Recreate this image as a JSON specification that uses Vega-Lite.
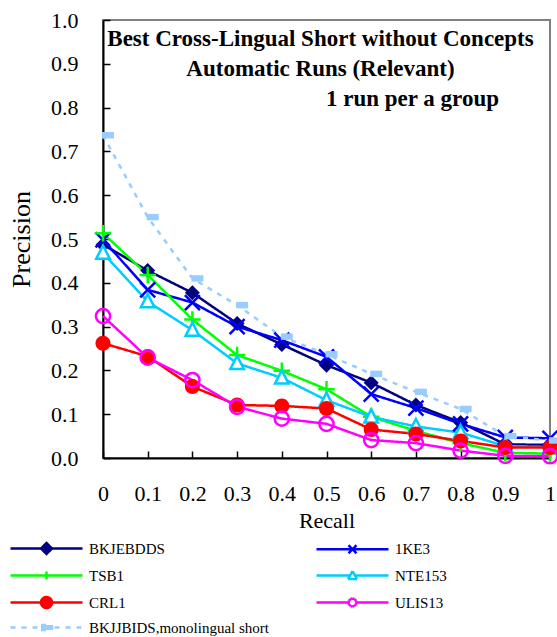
{
  "$schema": "https://vega.github.io/schema/vega-lite/v6.json",
  "width": 447,
  "height": 438,
  "autosize": {"type": "none"},
  "padding": {"left": 103, "top": 20, "right": 7, "bottom": 179},
  "background": "white",
  "title": {
    "text": ["Best Cross-Lingual Short without Concepts", "Automatic Runs (Relevant)", "\u200b\u00a0\u00a0\u00a0\u00a0\u00a0\u00a0\u00a0\u00a0\u00a0\u00a0\u00a0\u00a0\u00a0\u00a0\u00a0\u00a0\u00a0\u00a0\u00a0\u00a0\u00a0\u00a0\u00a0\u00a0\u00a0\u00a0\u00a0\u00a0\u00a0\u00a0\u00a0\u00a01 run per a group"],
    "font": "Liberation Serif",
    "fontSize": 23,
    "fontWeight": "bold",
    "lineHeight": 30,
    "anchor": "middle",
    "baseline": "top",
    "offset": -102,
    "dx": -6,
    "color": "black"
  },
  "data": {
    "values": [
      {"series": "BKJEBDDS", "recall": 0, "precision": 0.487},
      {"series": "BKJEBDDS", "recall": 0.1, "precision": 0.428},
      {"series": "BKJEBDDS", "recall": 0.2, "precision": 0.377},
      {"series": "BKJEBDDS", "recall": 0.3, "precision": 0.307},
      {"series": "BKJEBDDS", "recall": 0.4, "precision": 0.259},
      {"series": "BKJEBDDS", "recall": 0.5, "precision": 0.212},
      {"series": "BKJEBDDS", "recall": 0.6, "precision": 0.172},
      {"series": "BKJEBDDS", "recall": 0.7, "precision": 0.121},
      {"series": "BKJEBDDS", "recall": 0.8, "precision": 0.081},
      {"series": "BKJEBDDS", "recall": 0.9, "precision": 0.031},
      {"series": "BKJEBDDS", "recall": 1, "precision": 0.03},
      {"series": "1KE3", "recall": 0, "precision": 0.498},
      {"series": "1KE3", "recall": 0.1, "precision": 0.384},
      {"series": "1KE3", "recall": 0.2, "precision": 0.355},
      {"series": "1KE3", "recall": 0.3, "precision": 0.3},
      {"series": "1KE3", "recall": 0.4, "precision": 0.269},
      {"series": "1KE3", "recall": 0.5, "precision": 0.231},
      {"series": "1KE3", "recall": 0.6, "precision": 0.146},
      {"series": "1KE3", "recall": 0.7, "precision": 0.114},
      {"series": "1KE3", "recall": 0.8, "precision": 0.078},
      {"series": "1KE3", "recall": 0.9, "precision": 0.047},
      {"series": "1KE3", "recall": 1, "precision": 0.045},
      {"series": "TSB1", "recall": 0, "precision": 0.513},
      {"series": "TSB1", "recall": 0.1, "precision": 0.418},
      {"series": "TSB1", "recall": 0.2, "precision": 0.316},
      {"series": "TSB1", "recall": 0.3, "precision": 0.235},
      {"series": "TSB1", "recall": 0.4, "precision": 0.199},
      {"series": "TSB1", "recall": 0.5, "precision": 0.157},
      {"series": "TSB1", "recall": 0.6, "precision": 0.094},
      {"series": "TSB1", "recall": 0.7, "precision": 0.062},
      {"series": "TSB1", "recall": 0.8, "precision": 0.034},
      {"series": "TSB1", "recall": 0.9, "precision": 0.012},
      {"series": "TSB1", "recall": 1, "precision": 0.01},
      {"series": "NTE153", "recall": 0, "precision": 0.468},
      {"series": "NTE153", "recall": 0.1, "precision": 0.357},
      {"series": "NTE153", "recall": 0.2, "precision": 0.292},
      {"series": "NTE153", "recall": 0.3, "precision": 0.216},
      {"series": "NTE153", "recall": 0.4, "precision": 0.183},
      {"series": "NTE153", "recall": 0.5, "precision": 0.132},
      {"series": "NTE153", "recall": 0.6, "precision": 0.094},
      {"series": "NTE153", "recall": 0.7, "precision": 0.072},
      {"series": "NTE153", "recall": 0.8, "precision": 0.058},
      {"series": "NTE153", "recall": 0.9, "precision": 0.027},
      {"series": "NTE153", "recall": 1, "precision": 0.025},
      {"series": "CRL1", "recall": 0, "precision": 0.262},
      {"series": "CRL1", "recall": 0.1, "precision": 0.232},
      {"series": "CRL1", "recall": 0.2, "precision": 0.163},
      {"series": "CRL1", "recall": 0.3, "precision": 0.121},
      {"series": "CRL1", "recall": 0.4, "precision": 0.119},
      {"series": "CRL1", "recall": 0.5, "precision": 0.113},
      {"series": "CRL1", "recall": 0.6, "precision": 0.065},
      {"series": "CRL1", "recall": 0.7, "precision": 0.055},
      {"series": "CRL1", "recall": 0.8, "precision": 0.039},
      {"series": "CRL1", "recall": 0.9, "precision": 0.024},
      {"series": "CRL1", "recall": 1, "precision": 0.024},
      {"series": "ULIS13", "recall": 0, "precision": 0.324},
      {"series": "ULIS13", "recall": 0.1, "precision": 0.229},
      {"series": "ULIS13", "recall": 0.2, "precision": 0.178},
      {"series": "ULIS13", "recall": 0.3, "precision": 0.117},
      {"series": "ULIS13", "recall": 0.4, "precision": 0.09},
      {"series": "ULIS13", "recall": 0.5, "precision": 0.078},
      {"series": "ULIS13", "recall": 0.6, "precision": 0.041},
      {"series": "ULIS13", "recall": 0.7, "precision": 0.034},
      {"series": "ULIS13", "recall": 0.8, "precision": 0.017},
      {"series": "ULIS13", "recall": 0.9, "precision": 0.005},
      {"series": "ULIS13", "recall": 1, "precision": 0.004},
      {"series": "BKJJBIDS,monolingual short", "recall": 0, "precision": 0.737},
      {"series": "BKJJBIDS,monolingual short", "recall": 0.1, "precision": 0.55},
      {"series": "BKJJBIDS,monolingual short", "recall": 0.2, "precision": 0.41},
      {"series": "BKJJBIDS,monolingual short", "recall": 0.3, "precision": 0.349},
      {"series": "BKJJBIDS,monolingual short", "recall": 0.4, "precision": 0.277},
      {"series": "BKJJBIDS,monolingual short", "recall": 0.5, "precision": 0.237},
      {"series": "BKJJBIDS,monolingual short", "recall": 0.6, "precision": 0.192},
      {"series": "BKJJBIDS,monolingual short", "recall": 0.7, "precision": 0.151},
      {"series": "BKJJBIDS,monolingual short", "recall": 0.8, "precision": 0.112},
      {"series": "BKJJBIDS,monolingual short", "recall": 0.9, "precision": 0.05},
      {"series": "BKJJBIDS,monolingual short", "recall": 1, "precision": 0.04}
    ]
  },
  "encoding": {
    "x": {
      "field": "recall",
      "type": "quantitative",
      "scale": {"domain": [0, 1], "nice": false},
      "axis": {
        "title": "Recall",
        "values": [0, 0.1, 0.2, 0.3, 0.4, 0.5, 0.6, 0.7, 0.8, 0.9, 1],
        "format": "~g",
        "grid": false,
        "domainColor": "black",
        "domainWidth": 2,
        "tickColor": "black",
        "tickWidth": 1.5,
        "tickSize": -7,
        "labelPadding": 32,
        "labelFlush": false,
        "labelOverlap": false,
        "labelFont": "Liberation Serif",
        "labelFontSize": 22,
        "labelColor": "black",
        "titleFont": "Liberation Serif",
        "titleFontSize": 22,
        "titleFontWeight": "normal",
        "titleColor": "black",
        "titlePadding": 6
      }
    },
    "y": {
      "field": "precision",
      "type": "quantitative",
      "scale": {"domain": [0, 1], "nice": false},
      "axis": {
        "title": "Precision",
        "values": [0, 0.1, 0.2, 0.3, 0.4, 0.5, 0.6, 0.7, 0.8, 0.9, 1],
        "format": ".1f",
        "grid": false,
        "domainColor": "black",
        "domainWidth": 2,
        "tickColor": "black",
        "tickWidth": 1.5,
        "tickSize": -7,
        "labelPadding": 32,
        "labelFlush": false,
        "labelOverlap": false,
        "labelFont": "Liberation Serif",
        "labelFontSize": 22,
        "labelColor": "black",
        "titleFont": "Liberation Serif",
        "titleFontSize": 26,
        "titleFontWeight": "normal",
        "titleColor": "black",
        "titlePadding": 16
      }
    },
    "color": {
      "field": "series",
      "type": "nominal",
      "scale": {
        "domain": ["BKJEBDDS", "1KE3", "TSB1", "NTE153", "CRL1", "ULIS13", "BKJJBIDS,monolingual short"],
        "range": ["#000080", "#0000ff", "#00ff00", "#00ccff", "#ff0000", "#ff00ff", "#99ccff"]
      },
      "legend": {
        "title": null,
        "orient": "none",
        "direction": "horizontal",
        "legendX": -94,
        "legendY": 521,
        "columns": 2,
        "columnPadding": 41,
        "rowPadding": 7,
        "padding": 0,
        "symbolSize": 100,
        "symbolOffset": 30,
        "labelOffset": 35,
        "symbolStrokeWidth": 2.5,
        "labelFont": "Liberation Serif",
        "labelFontSize": 15,
        "labelColor": "black",
        "labelLimit": 400,
        "encode": {
          "symbols": {
            "update": {
              "shape": {"signal": "['M-7.2,0H7.2M0,-1.1L1.1,0L0,1.1L-1.1,0Z','M-7.2,0H7.2M-0.8,-0.8L0.8,0.8M-0.8,0.8L0.8,-0.8','M-7.2,0H7.2M0,-0.8V0.8','M-7.2,0H-0.5M0.5,0H7.2M0,-0.85L0.9,0.7M0.9,0.7L-0.9,0.7M-0.9,0.7L0,-0.85','M-7.2,0H7.2M-1.1,0A1.1,1.1,0,1,1,1.1,0A1.1,1.1,0,1,1,-1.1,0Z','M-7.2,0H-0.8M0.8,0H7.2M0.8,0L0.693,0.4M0.693,0.4L0.4,0.693M0.4,0.693L0,0.8M0,0.8L-0.4,0.693M-0.4,0.693L-0.693,0.4M-0.693,0.4L-0.8,0M-0.8,0L-0.693,-0.4M-0.693,-0.4L-0.4,-0.693M-0.4,-0.693L0,-0.8M0,-0.8L0.4,-0.693M0.4,-0.693L0.693,-0.4M0.693,-0.4L0.8,0','M-7.2,0H7.2M-1.1,-0.5H1.1V0.5H-1.1Z'][indexof(['BKJEBDDS','1KE3','TSB1','NTE153','CRL1','ULIS13','BKJJBIDS,monolingual short'], datum.value)]"},
              "fill": {"signal": "['#000080','transparent','transparent','#ffffff','#ff0000','#ffffff','#99ccff'][indexof(['BKJEBDDS','1KE3','TSB1','NTE153','CRL1','ULIS13','BKJJBIDS,monolingual short'], datum.value)]"},
              "stroke": {"signal": "['#000080','#0000ff','#00ff00','#00ccff','#ff0000','#ff00ff','#99ccff'][indexof(['BKJEBDDS','1KE3','TSB1','NTE153','CRL1','ULIS13','BKJJBIDS,monolingual short'], datum.value)]"},
              "strokeDash": {"signal": "datum.value === 'BKJJBIDS,monolingual short' ? [6, 6] : [1, 0]"},
              "strokeWidth": {"value": 2.5},
              "opacity": {"value": 1}
            }
          }
        }
      }
    }
  },
  "layer": [
    {
      "mark": {"type": "line", "strokeWidth": 2.5},
      "encoding": {
        "strokeDash": {
          "field": "series",
          "type": "nominal",
          "scale": {
            "domain": ["BKJEBDDS", "1KE3", "TSB1", "NTE153", "CRL1", "ULIS13", "BKJJBIDS,monolingual short"],
            "range": [[1, 0], [1, 0], [1, 0], [1, 0], [1, 0], [1, 0], [5, 6]]
          },
          "legend": null
        }
      }
    },
    {
      "transform": [{"filter": "datum.series === 'BKJEBDDS'"}],
      "mark": {"type": "point", "shape": "M0,-1L1,0L0,1L-1,0Z", "filled": true, "opacity": 1, "size": 225}
    },
    {
      "transform": [{"filter": "datum.series === '1KE3'"}],
      "mark": {"type": "point", "shape": "M-1,-1L1,1M-1,1L1,-1", "filled": false, "opacity": 1, "strokeWidth": 2.5, "size": 225}
    },
    {
      "transform": [{"filter": "datum.series === 'TSB1'"}],
      "mark": {"type": "point", "shape": "M-1.1,0H1.1M0,-1.1V1.1", "filled": false, "opacity": 1, "strokeWidth": 2.5, "size": 225}
    },
    {
      "transform": [{"filter": "datum.series === 'NTE153'"}],
      "mark": {"type": "point", "shape": "M0,-1L0.9,0.75H-0.9Z", "filled": false, "fill": "#ffffff", "opacity": 1, "strokeWidth": 2.5, "size": 225}
    },
    {
      "transform": [{"filter": "datum.series === 'CRL1'"}],
      "mark": {"type": "point", "shape": "M-1,0A1,1,0,1,1,1,0A1,1,0,1,1,-1,0Z", "filled": true, "opacity": 1, "size": 225}
    },
    {
      "transform": [{"filter": "datum.series === 'ULIS13'"}],
      "mark": {"type": "point", "shape": "M-0.95,0A0.95,0.95,0,1,1,0.95,0A0.95,0.95,0,1,1,-0.95,0Z", "filled": false, "opacity": 1, "strokeWidth": 2.5, "size": 225}
    },
    {
      "transform": [{"filter": "datum.series === 'BKJJBIDS,monolingual short'"}],
      "mark": {"type": "point", "shape": "M-0.13,-0.43H1.47V0.43H-0.13Z", "filled": true, "opacity": 1, "size": 225}
    }
  ],
  "config": {
    "view": {"stroke": "#808080", "strokeWidth": 2},
    "font": "Liberation Serif"
  }
}
